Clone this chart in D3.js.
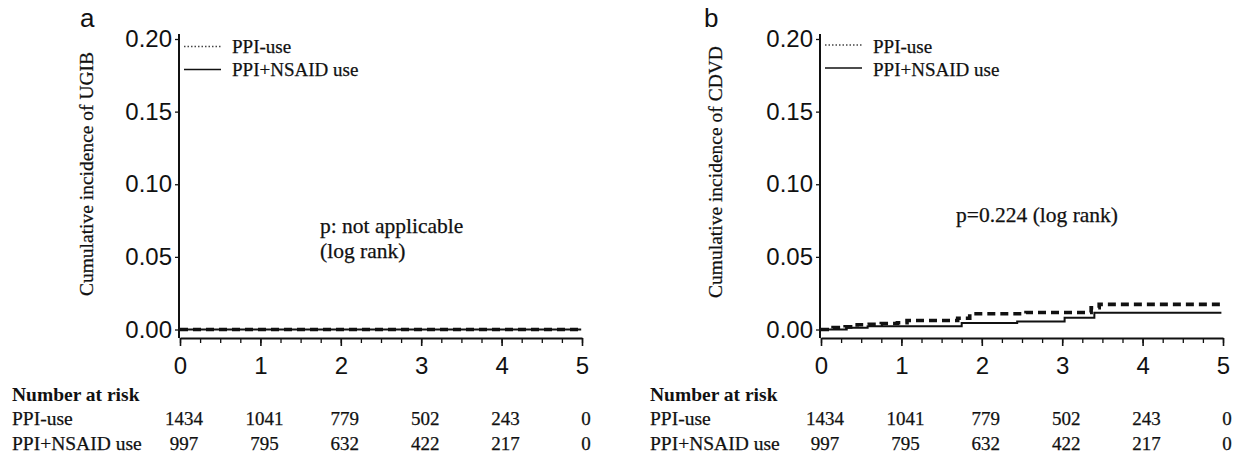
<!DOCTYPE html>
<html>
<head>
<meta charset="utf-8">
<script src="https://cdn.jsdelivr.net/npm/d3@7"></script>
<style>
  body { margin: 0; background: #fff; }
  svg { display: block; }
</style>
</head>
<body>
<div id="chart"></div>
<script>
// data
const years = [0, 1, 2, 3, 4, 5];
const yTicks = [0, 0.05, 0.10, 0.15, 0.20];
const groups = ["PPI-use", "PPI+NSAID use"];
const riskPPI = [1434, 1041, 779, 502, 243, 0];
const riskPPINSAID = [997, 795, 632, 422, 217, 0];

// UGIB: no events in either group
const ugibPPI = [[0, 0], [4.99, 0]];
const ugibPPINSAID = [[0, 0], [4.99, 0]];

// CDVD step curves [year, cumulative incidence]
const cdvdPPI = [
  [0, 0], [0.15, 0.0013], [0.30, 0.0018], [0.45, 0.0033], [0.60, 0.0036],
  [0.75, 0.0041], [0.95, 0.0046], [1.07, 0.0062], [1.70, 0.0077],
  [1.85, 0.0108], [2.55, 0.0117], [3.36, 0.0150], [3.46, 0.0173], [4.98, 0.0173]
];
const cdvdPPINSAID = [
  [0, 0], [0.32, 0.0012], [0.58, 0.0023], [1.75, 0.0045], [2.44, 0.0055],
  [3.03, 0.0081], [3.40, 0.0116], [4.98, 0.0116]
];

const W = 1236, H = 459;
const svg = d3.select("#chart").append("svg")
  .attr("width", W).attr("height", H);

const sans = "'Liberation Sans', Arial, sans-serif";
const serif = "'Liberation Serif', 'Times New Roman', serif";
const ink = "#111";

const y = d3.scaleLinear().domain([0, 0.2]).range([329.5, 39]);
const xAxisY = 338;

// serif text in the scan is a bit heavier than the plain font
const heavy = sel => sel.attr("stroke", ink).attr("stroke-width", 0.25);

function panel(opt) {
  const x = d3.scaleLinear().domain([0, 5]).range([opt.x0, opt.x0 + 402]);
  const g = svg.append("g");

  // panel letter
  g.append("text")
    .attr("x", opt.letterX).attr("y", 27)
    .style("font-family", sans).style("font-size", "26px").attr("fill", ink)
    .text(opt.letter);

  // y axis
  const ya = g.append("g")
    .attr("transform", `translate(${x(0) - 1},0)`)
    .call(d3.axisLeft(y).tickValues(yTicks).tickFormat(d3.format(".2f"))
      .tickSize(4).tickSizeOuter(0).tickPadding(3));
  ya.select(".domain").remove();
  ya.selectAll("line").attr("stroke", ink).attr("stroke-width", 1.3);
  ya.selectAll("text").style("font-family", sans).style("font-size", "24px").attr("fill", ink);
  g.append("line")
    .attr("x1", x(0) - 1).attr("x2", x(0) - 1)
    .attr("y1", y(0.2) - 5).attr("y2", xAxisY)
    .attr("stroke", ink).attr("stroke-width", 2);

  // x axis: major + quarter-year minor ticks
  const minor = g.append("g")
    .attr("transform", `translate(0,${xAxisY})`)
    .call(d3.axisBottom(x).tickValues(d3.range(0, 5.01, 0.25)).tickFormat("").tickSize(5).tickSizeOuter(0));
  minor.select(".domain").attr("stroke", ink).attr("stroke-width", 2);
  minor.selectAll("line").attr("stroke", ink).attr("stroke-width", 1.3);
  const xa = g.append("g")
    .attr("transform", `translate(0,${xAxisY})`)
    .call(d3.axisBottom(x).tickValues(years).tickFormat(d3.format("d")).tickSize(8).tickPadding(11));
  xa.select(".domain").remove();
  xa.selectAll("line").attr("stroke", ink).attr("stroke-width", 1.6);
  xa.selectAll("text").style("font-family", sans).style("font-size", "24px").attr("fill", ink);

  // y axis title
  g.append("text")
    .attr("transform", `translate(${opt.titleX},${opt.titleY}) rotate(-90)`)
    .attr("text-anchor", "middle")
    .style("font-family", serif).style("font-size", "19.5px").attr("fill", ink)
    .call(heavy)
    .text(opt.title);

  // curves
  const line = d3.line().x(d => x(d[0])).y(d => y(d[1])).curve(d3.curveStepAfter);
  g.append("path").datum(opt.solid)
    .attr("d", line).attr("fill", "none")
    .attr("stroke", ink).attr("stroke-width", 2);
  g.append("path").datum(opt.dashed)
    .attr("d", line).attr("fill", "none")
    .attr("stroke", ink).attr("stroke-width", 3.6).attr("stroke-dasharray", "8,5");

  // legend
  const lg = g.append("g");
  lg.append("line")
    .attr("x1", x(0) + 4).attr("x2", x(0) + 41)
    .attr("y1", opt.legY).attr("y2", opt.legY)
    .attr("stroke", "#444").attr("stroke-width", 1.3).attr("stroke-dasharray", "1.5,2");
  lg.append("line")
    .attr("x1", x(0) + 4).attr("x2", x(0) + 41)
    .attr("y1", opt.legY + 23).attr("y2", opt.legY + 23)
    .attr("stroke", ink).attr("stroke-width", 1.6);
  groups.forEach((name, i) => {
    lg.append("text")
      .attr("x", x(0) + 52).attr("y", 53 + i * 23)
      .style("font-family", serif).style("font-size", "19px").attr("fill", ink)
      .call(heavy)
      .text(name);
  });

  // p-value note
  opt.note.forEach((t, i) => {
    g.append("text")
      .attr("x", opt.noteX).attr("y", opt.noteY + i * 25)
      .style("font-family", serif).style("font-size", "21.5px").attr("fill", ink)
      .call(heavy)
      .text(t);
  });

  // number at risk table
  g.append("text")
    .attr("x", opt.tableX).attr("y", 401)
    .style("font-family", serif).style("font-size", "19.5px").style("font-weight", "bold").attr("fill", ink)
    .text("Number at risk");
  [riskPPI, riskPPINSAID].forEach((row, i) => {
    const ry = 425 + i * 25;
    g.append("text")
      .attr("x", opt.tableX).attr("y", ry)
      .style("font-family", serif).style("font-size", "19.5px").attr("fill", ink)
      .call(heavy)
      .text(groups[i]);
    g.selectAll(null).data(row).join("text")
      .attr("x", (d, j) => x(years[j]) + 4)
      .attr("y", ry)
      .attr("text-anchor", "middle")
      .style("font-family", serif).style("font-size", "19px").attr("fill", ink)
      .call(heavy)
      .text(d => d);
  });
}

panel({
  letter: "a", letterX: 80, x0: 180,
  title: "Cumulative incidence of UGIB", titleX: 93, titleY: 174,
  solid: ugibPPINSAID, dashed: ugibPPI, legY: 46.5,
  note: ["p: not applicable", "(log rank)"], noteX: 320, noteY: 233,
  tableX: 12
});

panel({
  letter: "b", letterX: 704, x0: 821,
  title: "Cumulative incidence of CDVD", titleX: 722, titleY: 172,
  solid: cdvdPPINSAID, dashed: cdvdPPI, legY: 45,
  note: ["p=0.224 (log rank)"], noteX: 956, noteY: 222,
  tableX: 650
});
</script>
</body>
</html>
